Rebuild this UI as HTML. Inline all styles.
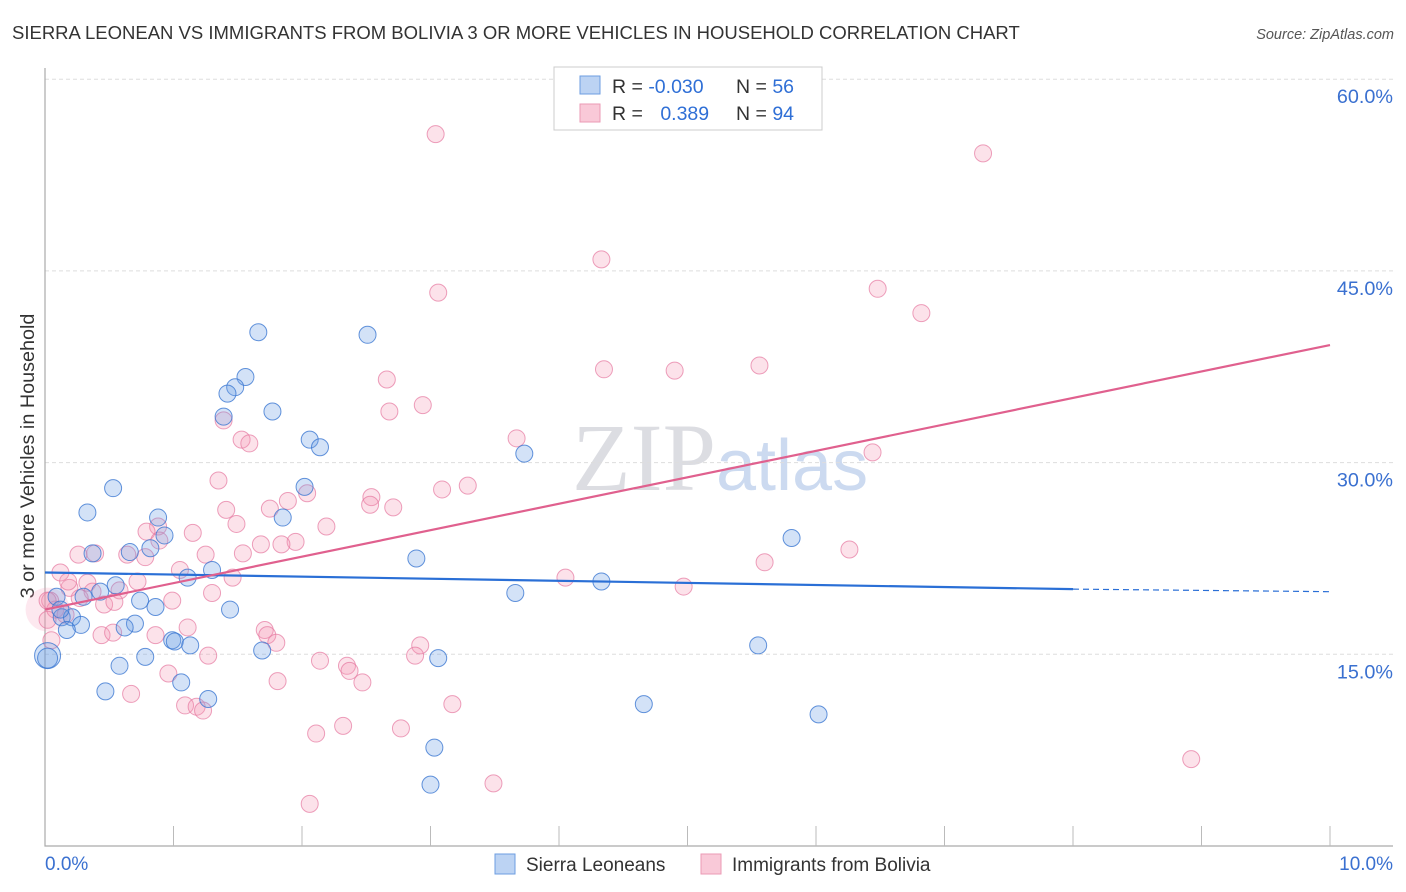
<!DOCTYPE html>
<html><head><meta charset="utf-8"><style>
body{margin:0;background:#fff;font-family:"Liberation Sans",sans-serif;}
svg{display:block}
</style></head><body>
<svg id="chart" width="1406" height="892">
<text x="12" y="39" font-size="18.5" fill="#333">SIERRA LEONEAN VS IMMIGRANTS FROM BOLIVIA 3 OR MORE VEHICLES IN HOUSEHOLD CORRELATION CHART</text>
<text x="1394" y="39" font-size="14.5" fill="#555" font-style="italic" text-anchor="end">Source: ZipAtlas.com</text>
<text x="716" y="490" font-size="96" fill="#dcdde2" text-anchor="end" font-family="Liberation Serif,serif">ZIP</text>
<text x="716" y="490" font-size="72" fill="#ccdaf0">atlas</text>
<text transform="translate(34,456) rotate(-90)" font-size="19.8" fill="#333" text-anchor="middle">3 or more Vehicles in Household</text>
<g id="grid"></g><g id="marks"></g>
<g>
<rect x="554" y="67" width="268" height="63" fill="#fff" stroke="#ccc"/>
<rect x="580" y="76" width="20" height="18" fill="#bcd3f3" stroke="#6d9ee0"/>
<rect x="580" y="104" width="20" height="18" fill="#f9c9d8" stroke="#eb9ab5"/>
<text x="612" y="93" font-size="19.5" fill="#333">R = <tspan fill="#2f6fd6">-0.030</tspan></text>
<text x="736" y="93" font-size="19.5" fill="#333">N = <tspan fill="#2f6fd6">56</tspan></text>
<text x="612" y="120" font-size="19.5" fill="#333">R = <tspan fill="#2f6fd6" dx="12">0.389</tspan></text>
<text x="736" y="120" font-size="19.5" fill="#333">N = <tspan fill="#2f6fd6">94</tspan></text>
</g>
<g>
<rect x="495" y="854" width="20" height="20" fill="#bcd3f3" stroke="#6d9ee0"/>
<text x="526" y="871" font-size="19" fill="#333">Sierra Leoneans</text>
<rect x="701" y="854" width="20" height="20" fill="#f9c9d8" stroke="#eb9ab5"/>
<text x="732" y="871" font-size="19" fill="#333">Immigrants from Bolivia</text>
</g>
</svg>
<script>
const blueX=[1.66,2.51,1.56,1.48,1.42,1.39,1.77,2.06,2.14,3.73,0.53,2.02,0.33,0.88,1.85,0.93,0.82,0.66,0.37,2.89,5.81,1.30,1.11,4.33,0.55,0.43,3.66,0.30,0.09,0.74,0.86,1.44,0.13,0.21,0.28,0.70,0.62,0.17,0.99,1.01,1.13,5.55,1.69,0.78,3.06,0.02,0.02,0.58,1.06,0.47,1.27,4.66,6.02,3.03,3.00,0.12];
const blueY=[40.2,40.0,36.7,35.9,35.4,33.6,34.0,31.8,31.2,30.7,28.0,28.1,26.1,25.7,25.7,24.3,23.3,23.0,22.9,22.5,24.1,21.6,21.0,20.7,20.4,19.9,19.8,19.5,19.5,19.2,18.7,18.5,17.9,17.9,17.3,17.4,17.1,16.9,16.1,16.0,15.7,15.7,15.3,14.8,14.7,14.9,14.7,14.1,12.8,12.1,11.5,11.1,10.3,7.7,4.8,18.5];
const blueR=[8.5,8.5,8.5,8.5,8.5,8.5,8.5,8.5,8.5,8.5,8.5,8.5,8.5,8.5,8.5,8.5,8.5,8.5,8.5,8.5,8.5,8.5,8.5,8.5,8.5,8.5,8.5,8.5,8.5,8.5,8.5,8.5,8.5,8.5,8.5,8.5,8.5,8.5,8.5,8.5,8.5,8.5,8.5,8.5,8.5,13,10,8.5,8.5,8.5,8.5,8.5,8.5,8.5,8.5,8.5];
const pinkX=[3.04,7.30,4.33,3.06,6.48,6.82,4.35,4.90,5.56,2.66,2.68,2.94,1.39,1.53,1.59,3.67,6.44,1.35,3.29,3.09,2.54,2.53,2.71,1.89,2.04,1.75,1.41,1.49,2.19,0.88,0.79,1.15,1.95,1.84,1.68,1.54,0.64,0.26,0.39,0.89,1.25,0.78,6.26,5.60,1.05,1.46,4.05,4.97,0.12,0.33,0.19,0.37,0.58,0.72,1.30,0.46,0.54,0.99,0.04,0.08,0.16,0.44,0.53,0.86,1.11,1.71,1.73,1.80,2.92,2.88,1.27,2.14,2.35,2.37,2.47,1.81,0.96,1.09,1.18,1.23,3.17,0.67,2.32,2.11,2.77,8.92,3.49,2.06,0.02,0.05,0.02,0.18,0.27];
const pinkY=[55.7,54.2,45.9,43.3,43.6,41.7,37.3,37.2,37.6,36.5,34.0,34.5,33.3,31.8,31.5,31.9,30.8,28.6,28.2,27.9,27.3,26.7,26.5,27.0,27.6,26.4,26.3,25.2,25.0,25.0,24.6,24.5,23.8,23.6,23.6,22.9,22.8,22.8,22.9,23.9,22.8,22.6,23.2,22.2,21.6,21.0,21.0,20.3,21.4,20.6,20.2,19.9,20.0,20.7,19.8,18.9,19.1,19.2,19.2,18.5,18.1,16.5,16.7,16.5,17.1,16.9,16.5,15.9,15.7,14.9,14.9,14.5,14.1,13.7,12.8,12.9,13.5,11.0,10.9,10.6,11.1,11.9,9.4,8.8,9.2,6.8,4.9,3.3,17.7,16.1,19.2,20.7,19.4];
const yTicks=[15,30,45,60];
const yTickLabels=["15.0%","30.0%","45.0%","60.0%"];
const blueTrend=[21.4,20.1,19.9]; // at x=0, 8, 10
const pinkTrend=[18.5,39.2];      // at x=0, 10
const NS="http://www.w3.org/2000/svg";
const sx=v=>45+v*128.5, sy=v=>846-v*12.78;
function mk(tag,attrs,parent){const e=document.createElementNS(NS,tag);for(const k in attrs)e.setAttribute(k,attrs[k]);parent.appendChild(e);return e;}
const grid=document.getElementById('grid'), marks=document.getElementById('marks');
yTicks.forEach((t,i)=>{
  const l=mk('line',{x1:45,x2:1393,y1:sy(t),y2:sy(t),stroke:'#ddd','stroke-dasharray':'4,3'},grid);
  
  
  const tx=mk('text',{x:1393,y:sy(t)+24,'font-size':19.8,fill:'#3a70d0','text-anchor':'end'},grid);
  tx.textContent=yTickLabels[i];
  
  
});
const ax=mk('path',{d:'M45 68 V846 H1393',stroke:'#aaa',fill:'none','stroke-width':1.2},grid);


for(let i=1;i<=10;i++){const t=mk('line',{x1:sx(i),x2:sx(i),y1:826,y2:846,stroke:'#bbb'},grid);
  
  }
const x0=mk('text',{x:45,y:870,'font-size':19,fill:'#3a70d0'},grid);x0.textContent='0.0%';


const x1=mk('text',{x:1393,y:870,'font-size':19,fill:'#3a70d0','text-anchor':'end'},grid);x1.textContent='10.0%';


const big=mk('circle',{cx:sx(0.02),cy:sy(18.5),r:22,fill:'rgba(244,150,180,0.22)',stroke:'none'},marks);


pinkX.forEach((x,i)=>{const c=mk('circle',{cx:sx(x),cy:sy(pinkY[i]),r:8.5,fill:'rgba(244,150,180,0.28)',stroke:'rgba(230,120,160,0.7)','stroke-width':1},marks);
  
  });
blueX.forEach((x,i)=>{const c=mk('circle',{cx:sx(x),cy:sy(blueY[i]),r:blueR[i],fill:'rgba(110,160,230,0.3)',stroke:'rgba(60,120,210,0.8)','stroke-width':1},marks);
  
  });
const bl=mk('line',{x1:sx(0),y1:sy(blueTrend[0]),x2:sx(8),y2:sy(blueTrend[1]),stroke:'#2a6fd6','stroke-width':2.2},marks);


const bd=mk('line',{x1:sx(8),y1:sy(blueTrend[1]),x2:sx(10),y2:sy(blueTrend[2]),stroke:'#2a6fd6','stroke-width':1.2,'stroke-dasharray':'6,4'},marks);


const pl=mk('line',{x1:sx(0),y1:sy(pinkTrend[0]),x2:sx(10),y2:sy(pinkTrend[1]),stroke:'#e0608e','stroke-width':2.2},marks);


</script>
</body></html>
